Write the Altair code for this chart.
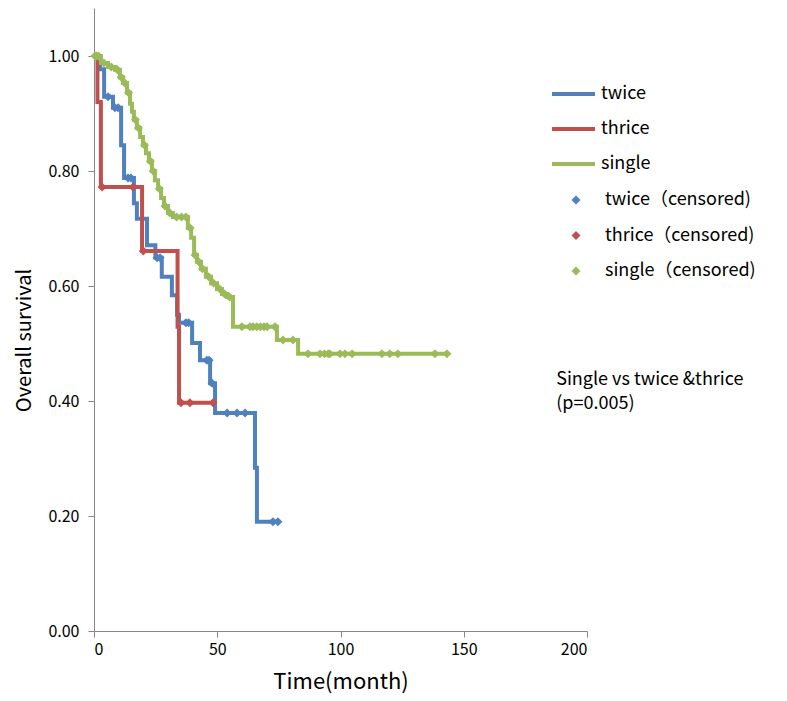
import altair as alt
import pandas as pd

# ---- step curves (time in months, survival after the step) ----
twice_t = [0, 2.4, 4.1, 7.7, 11.0, 12.2, 16.2, 17.4, 21.5, 24.9, 27.5, 31.6, 33.7, 34.5,
           39.8, 43.0, 47.1, 49.1, 65.3, 66.1, 74.6]
twice_s = [1.0, 0.977, 0.929, 0.910, 0.845, 0.788, 0.744, 0.717, 0.671, 0.649, 0.616, 0.584,
           0.550, 0.536, 0.501, 0.471, 0.431, 0.379, 0.284, 0.190, 0.190]

thrice_t = [0, 1.4, 2.8, 19.5, 33.9, 34.5, 48.7]
thrice_s = [1.0, 0.920, 0.772, 0.661, 0.529, 0.397, 0.397]

single_t = [0, 2.8, 5.7, 8.5, 10.5, 11.8, 13.4, 14.6, 15.4, 16.2, 17.4, 18.7, 19.9, 21.1,
            22.3, 23.5, 24.7, 26.0, 27.2, 28.4, 30.0, 32.0, 38.1, 39.4, 40.6, 41.8, 43.4,
            45.4, 47.5, 49.9, 51.9, 54.0, 56.4, 74.2, 82.8, 143.2]
single_s = [1.0, 0.988, 0.981, 0.976, 0.963, 0.953, 0.936, 0.917, 0.903, 0.889, 0.875, 0.859,
            0.845, 0.831, 0.817, 0.800, 0.784, 0.769, 0.753, 0.739, 0.727, 0.720, 0.701, 0.684,
            0.654, 0.642, 0.630, 0.616, 0.605, 0.595, 0.586, 0.581, 0.529, 0.506, 0.482, 0.482]

# ---- censored observations ----
twice_ct = [5.7, 8.5, 9.8, 13.8, 15.0, 25.6, 26.8, 37.3, 38.4, 45.8, 46.7, 47.9, 54.0, 58.0,
            61.3, 72.6, 74.6]
twice_cs = [0.929, 0.910, 0.910, 0.788, 0.788, 0.649, 0.649, 0.536, 0.536, 0.471, 0.471, 0.431,
            0.379, 0.379, 0.379, 0.190, 0.190]

thrice_ct = [3.3, 15.8, 20.0, 35.3, 38.9, 48.3]
thrice_cs = [0.772, 0.772, 0.661, 0.397, 0.397, 0.397]

single_ct = [0.4, 1.0, 1.8, 4.0, 7.0, 9.5, 11.0, 12.5, 14.0, 16.8, 18.0, 20.5, 22.9, 24.0,
             26.5, 28.8, 30.8, 33.5, 35.5, 37.3, 39.0, 41.0, 42.5, 44.0, 46.5, 48.5, 51.0,
             53.0, 55.0, 60.0, 63.3, 64.5, 66.0, 67.5, 69.0, 70.2, 73.4, 76.7, 80.7, 86.8,
             91.7, 93.5, 95.0, 95.7, 99.8, 101.8, 104.7, 116.8, 120.0, 123.3, 138.3, 143.2]
single_cs = [1.0, 1.0, 1.0, 0.988, 0.981, 0.976, 0.963, 0.953, 0.936, 0.889, 0.875, 0.845,
             0.817, 0.800, 0.769, 0.739, 0.727, 0.720, 0.720, 0.720, 0.701, 0.654, 0.642,
             0.630, 0.616, 0.605, 0.595, 0.586, 0.581, 0.529, 0.529, 0.529, 0.529, 0.529,
             0.529, 0.529, 0.529, 0.506, 0.506, 0.482, 0.482, 0.482, 0.482, 0.482, 0.482,
             0.482, 0.482, 0.482, 0.482, 0.482, 0.482, 0.482]

groups = ["twice", "thrice", "single"]
censor_labels = ["twice（censored)", "thrice（censored)", "single（censored)"]
colors = ["#4F81BD", "#C0504D", "#9BBB59"]

annotation_lines = ["Single vs twice &thrice", "(p=0.005)"]
annotation_t = [187.5, 187.5]
annotation_s = [0.437, 0.394]

x_ticks = [0, 50, 100, 150, 200]
y_ticks = [0.0, 0.2, 0.4, 0.6, 0.8, 1.0]

FONT = "Noto Sans CJK JP"

# ---- build tables ----
rows = []
for g, ts, ss in [("twice", twice_t, twice_s), ("thrice", thrice_t, thrice_s),
                  ("single", single_t, single_s)]:
    for i, (t, s) in enumerate(zip(ts, ss)):
        rows.append({"group": g, "t": t, "s": s, "i": i})
lines_df = pd.DataFrame(rows)

crows = []
for g, lab, ts, ss in [("twice", censor_labels[0], twice_ct, twice_cs),
                       ("thrice", censor_labels[1], thrice_ct, thrice_cs),
                       ("single", censor_labels[2], single_ct, single_cs)]:
    for t, s in zip(ts, ss):
        crows.append({"clabel": lab, "t": t, "s": s})
cens_df = pd.DataFrame(crows)

ann_df = pd.DataFrame({"text": annotation_lines, "t": annotation_t, "s": annotation_s})

x_scale = alt.Scale(domain=[0, 200], nice=False, zero=False)
y_scale = alt.Scale(domain=[0, 1.0835], nice=False)

x_axis = alt.Axis(values=x_ticks, title="Time(month)", titleFontSize=22, grid=False,
                  titleFontWeight="normal", titleY=50, titleBaseline="middle",
                  labelPadding=4, tickSize=6, labelFontSize=16, labelFont=FONT,
                  titleFont=FONT, labelColor="#000000", titleColor="#000000",
                  domainColor="#868686", tickColor="#868686")
y_axis = alt.Axis(values=y_ticks, format=".2f", title="Overall survival", titleFontSize=20,
                  grid=False, titleFontWeight="normal", titleX=-70, titleY=332,
                  titleAngle=270, titleAlign="center", titleBaseline="middle",
                  labelPadding=9, tickSize=6, labelFontSize=16, labelFont=FONT,
                  titleFont=FONT, labelColor="#000000", titleColor="#000000",
                  domainColor="#868686", tickColor="#868686")

lines = alt.Chart(lines_df).mark_line(interpolate="step-after", strokeWidth=4).encode(
    x=alt.X("t:Q", scale=x_scale, axis=x_axis),
    y=alt.Y("s:Q", scale=y_scale, axis=y_axis),
    color=alt.Color("group:N", scale=alt.Scale(domain=groups, range=colors),
                    legend=alt.Legend(title=None, orient="none", legendX=456, legendY=76,
                                      symbolType="stroke", symbolSize=1849,
                                      symbolStrokeWidth=4, labelOffset=4, clipHeight=20,
                                      rowPadding=15, padding=0, labelFontSize=18,
                                      labelFont=FONT, labelColor="#000000",
                                      labelLimit=300)),
    order=alt.Order("i:Q"),
    detail="group:N",
)

points = alt.Chart(cens_df).mark_point(shape="diamond", filled=True, size=80,
                                       strokeWidth=0, opacity=1).encode(
    x=alt.X("t:Q", scale=x_scale),
    y=alt.Y("s:Q", scale=y_scale),
    fill=alt.Fill("clabel:N", scale=alt.Scale(domain=censor_labels, range=colors),
                  legend=alt.Legend(title=None, orient="none", legendX=473, legendY=182,
                                    symbolType="diamond", symbolSize=81,
                                    symbolStrokeWidth=0, labelOffset=20, clipHeight=20,
                                    rowPadding=15.5, padding=0, labelFontSize=18,
                                    labelFont=FONT, labelColor="#000000",
                                    labelLimit=300)),
)

ann = alt.Chart(ann_df).mark_text(align="left", baseline="middle", fontSize=18,
                                  font=FONT, color="#000000").encode(
    x=alt.X("t:Q", scale=x_scale),
    y=alt.Y("s:Q", scale=y_scale),
    text="text:N",
)

chart = alt.layer(lines, points, ann).properties(
    width=493, height=623,
    background="white",
    autosize=alt.AutoSizeParams(type="none"),
    padding={"left": 86, "top": 0, "right": 170, "bottom": 64},
).configure_view(stroke=None).configure_axis(
    grid=False, domainWidth=1,
)

chart.save("out.html", embed_options={"renderer": "svg", "actions": False})
